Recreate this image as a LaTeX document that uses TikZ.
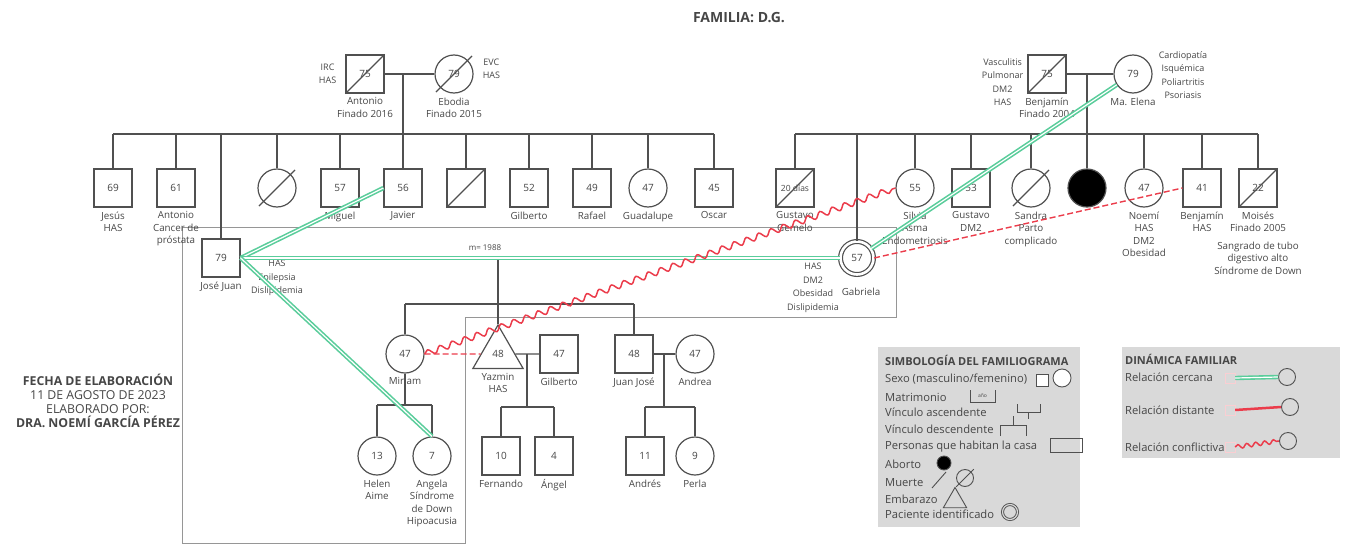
\documentclass[tikz,border=0pt]{standalone}
\usepackage{fontspec}
\setmainfont{Open Sans}
\usepackage{tikz}
\usetikzlibrary{positioning,calc,shapes.geometric,decorations.pathmorphing}

\definecolor{linegray}{RGB}{80,80,80}
\definecolor{textgray}{RGB}{70,70,70}
\definecolor{housegray}{RGB}{150,150,150}
\definecolor{closegreen}{RGB}{90,205,155}
\definecolor{farred}{RGB}{235,60,75}
\definecolor{legendfill}{RGB}{217,217,217}

\begin{document}
\begin{tikzpicture}[
    x=1pt, y=-1pt,
    font=\fontsize{9}{12.5}\selectfont,
    every node/.style={text=textgray},
    tie/.style={draw=linegray, line width=1.2pt},
    male/.style={
        draw=linegray,
        fill=white,
        line width=1.2pt,
        minimum size=38pt,
        inner sep=0pt,
        font=\fontsize{10}{12}\selectfont
    },
    female/.style={male, circle},
    abortion/.style={female, fill=black},
    pregnancy/.style={male, regular polygon, regular polygon sides=3, minimum size=58pt},
    patient/.style={female, minimum size=33pt, double=white, double distance=2.6pt},
    lbl/.style={align=center, inner sep=1pt, label distance=3pt, font=\fontsize{9.8}{12.5}\selectfont},
    note/.style={lbl, font=\fontsize{9}{13.5}\selectfont},
    closerel/.style={draw=closegreen, line width=1.6pt, double=white, double distance=1.2pt},
    distrel/.style={draw=farred, line width=1.4pt, dash pattern=on 6pt off 3pt},
    conflrel/.style={draw=farred, line width=1.5pt, decorate,
        decoration={snake, segment length=13pt, amplitude=3pt}},
    house/.style={draw=housegray, line width=0.8pt},
    legtext/.style={anchor=west, inner sep=0pt, font=\fontsize{11.2}{13}\selectfont},
    legtitle/.style={legtext, font=\bfseries\fontsize{11}{13}\selectfont},
    legicon/.style={draw=linegray, line width=0.9pt, inner sep=0pt}
]
\useasboundingbox (0,0) rectangle (1346,546);

% Title
\node[font=\bfseries\fontsize{14}{16}\selectfont] (titulo) at (739,18) {FAMILIA: D.G.};

% Household
\coordinate (h1) at (182,227);
\coordinate (h2) at (896,227);
\coordinate (h3) at (896,317);
\coordinate (h4) at (465,317);
\coordinate (h5) at (465,543);
\coordinate (h6) at (182,543);
\draw[house] (h1) -- (h2) -- (h3) -- (h4) -- (h5) -- (h6) -- cycle;

% Sibship levels
\coordinate (sibp) at (0,134);
\coordinate (sibm) at (0,134);
\coordinate (sibh) at (0,304);
\coordinate (sibmi) at (0,405);
\coordinate (sibyg) at (527,407);
\coordinate (sibja) at (664,407);

% Paternal grandparents
\node[male] (antonio) at (365,74) {75};
\node[female] (ebodia) at (454,74) {79};
\node[note, left=8pt of antonio] (antonionote) {IRC\\HAS};
\node[note, right=8pt of ebodia, yshift=5pt] (ebodianote) {EVC\\HAS};
\node[lbl, below=3pt of antonio] (antoniolbl) {Antonio\\Finado 2016};
\node[lbl, below=3pt of ebodia] (ebodialbl) {Ebodia\\Finado 2015};

% Maternal grandparents
\node[male] (benjamin) at (1047,74) {75};
\node[female] (elena) at (1133,74) {79};
\node[note, left=3pt of benjamin, yshift=-8pt] (benjaminnote) {Vasculitis\\Pulmonar\\DM2\\HAS};
\node[note, right=5pt of elena, yshift=-1pt] (elenanote) {Cardiopatía\\Isquémica\\Poliartritis\\Psoriasis};
\node[lbl, below=3pt of benjamin] (benjaminlbl) {Benjamín\\Finado 2004};
\node[lbl, below=3pt of elena] (elenalbl) {Ma. Elena};

% Paternal siblings
\node[male, label={[lbl]below:Jesús\\HAS}] (jesus) at (113,188) {69};
\node[male, label={[lbl]below:Antonio\\Cancer de\\próstata}] (antonio2) at (176,188) {61};
\node[female] (sisdead) at (277,188) {};
\node[male, label={[lbl]below:Miguel}] (miguel) at (340,188) {57};
\node[male, label={[lbl]below:Javier}] (javier) at (403,188) {56};
\node[male] (brodead) at (466,188) {};
\node[male, label={[lbl]below:Gilberto}] (gilberto) at (529,188) {52};
\node[male, label={[lbl]below:Rafael}] (rafael) at (592,188) {49};
\node[female, label={[lbl]below:Guadalupe}] (guadalupe) at (648,188) {47};
\node[male, label={[lbl]below:Oscar}] (oscar) at (714,188) {45};
\node[male, label={[lbl]below:José Juan}] (jj) at (221,258) {79};
\node[note] (jjnote) at (277,278) {HAS\\Epilepsia\\Dislipidemia};

% Maternal siblings
\node[male, font=\fontsize{8.5}{10}\selectfont, label={[lbl]below:Gustavo\\Gemelo}] (gustavo) at (795,188) {20 días};
\node[patient, label={[lbl, label distance=12pt, xshift=4pt]below:Gabriela}] (gabriela) at (857,258) {57};
\node[note] (gabrielanote) at (813,288) {HAS\\DM2\\Obesidad\\Dislipidemia};
\node[female, label={[lbl]below:Silvia\\Asma\\Endometriosis}] (silvia) at (915,188) {55};
\node[male, label={[lbl]below:Gustavo\\DM2}] (gustavo2) at (971,188) {53};
\node[female, label={[lbl]below:Sandra\\Parto\\complicado}] (sandra) at (1031,188) {};
\node[abortion] (aborto) at (1087,188) {};
\node[female, label={[lbl]below:Noemí\\HAS\\DM2\\Obesidad}] (noemi) at (1144,188) {47};
\node[male, label={[lbl]below:Benjamín\\HAS}] (benjamin2) at (1202,188) {41};
\node[male, label={[lbl]below:Moisés\\Finado 2005\\[5pt]Sangrado de tubo\\digestivo alto\\Síndrome de Down}] (moises) at (1258,188) {22};

% Third generation
\node[female, label={[lbl]below:Miriam}] (miriam) at (405,354) {47};
\node[pregnancy, label={[lbl]below:Yazmin\\HAS}] (yazmin) at (498,354) {48};
\node[male, label={[lbl]below:Gilberto}] (gilberto2) at (559,354) {47};
\node[male, label={[lbl]below:Juan José}] (juanjose) at (634,354) {48};
\node[female, label={[lbl]below:Andrea}] (andrea) at (695,354) {47};

% Fourth generation
\node[female, label={[lbl]below:Helen\\Aime}] (helen) at (377,456) {13};
\node[female, label={[lbl]below:Angela\\Síndrome\\de Down\\Hipoacusia}] (angela) at (432,456) {7};
\node[male, label={[lbl]below:Fernando}] (fernando) at (501,456) {10};
\node[male, label={[lbl]below:Ángel}] (angel) at (554,456) {4};
\node[male, label={[lbl]below:Andrés}] (andres) at (645,456) {11};
\node[female, label={[lbl]below:Perla}] (perla) at (695,456) {9};

% Deceased
\foreach \p in {antonio,benjamin,brodead,gustavo,moises}
    \draw[tie] (\p.south west) -- (\p.north east);
\foreach \p in {ebodia,sisdead,sandra}
    \draw[tie] ($(\p.south west)!-0.15!(\p.north east)$) -- ($(\p.north east)!-0.15!(\p.south west)$);

% Paternal family lines
\draw[tie] (antonio) -- (ebodia);
\draw[tie] (javier.north |- antonio.east) -- (javier.north);
\draw[tie] (jesus.north |- sibp) -- (oscar.north |- sibp);
\foreach \c in {jesus,antonio2,sisdead,miguel,brodead,gilberto,rafael,guadalupe,oscar,jj}
    \draw[tie] (\c.north |- sibp) -- (\c.north);

% Maternal family lines
\draw[tie] (benjamin) -- (elena);
\draw[tie] (aborto.north |- benjamin.east) -- (aborto.north);
\draw[tie] (gustavo.north |- sibm) -- (moises.north |- sibm);
\foreach \c in {gustavo,gabriela,silvia,gustavo2,sandra,noemi,benjamin2,moises}
    \draw[tie] (\c.north |- sibm) -- (\c.north);

% Nuclear family
\draw[tie] (jj) -- (gabriela);
\node[lbl, font=\fontsize{8}{10}\selectfont] (boda) at (485,248) {m= 1988};
\draw[tie] (yazmin.north |- jj.east) -- (yazmin.north);
\draw[tie] (miriam.north |- sibh) -- (juanjose.north |- sibh);
\foreach \c in {miriam,juanjose}
    \draw[tie] (\c.north |- sibh) -- (\c.north);

% Grandchildren
\draw[tie] (miriam.south) -- (miriam.south |- sibmi);
\draw[tie] (helen.north |- sibmi) -- (angela.north |- sibmi);
\foreach \c in {helen,angela}
    \draw[tie] (\c.north |- sibmi) -- (\c.north);
\draw[tie] (yazmin) -- (gilberto2);
\draw[tie] (sibyg |- gilberto2.west) -- (sibyg);
\draw[tie] (fernando.north |- sibyg) -- (angel.north |- sibyg);
\foreach \c in {fernando,angel}
    \draw[tie] (\c.north |- sibyg) -- (\c.north);
\draw[tie] (juanjose) -- (andrea);
\draw[tie] (sibja |- andrea.west) -- (sibja);
\draw[tie] (andres.north |- sibja) -- (perla.north |- sibja);
\foreach \c in {andres,perla}
    \draw[tie] (\c.north |- sibja) -- (\c.north);

% Family dynamics
\draw[closerel] (jj.east) -- (javier.west);
\draw[closerel] (jj.east) -- (gabriela.west);
\draw[closerel] (jj.east) -- (angela.north);
\draw[closerel] (gabriela) -- (elena);
\draw[distrel] (miriam.east) -- (yazmin.west);
\draw[distrel] (gabriela.east) -- (benjamin2.west);
\draw[conflrel] (miriam.east) -- (silvia.west);

% Elaboration
\node[align=center, font=\fontsize{12.3}{14}\selectfont] (fecha) at (98,401)
{\textbf{FECHA DE ELABORACIÓN}\\11 DE AGOSTO DE 2023\\ELABORADO POR:\\\textbf{DRA. NOEMÍ GARCÍA PÉREZ}};

% Symbol legend
\node[fill=legendfill, minimum width=202pt, minimum height=180pt, anchor=north west, inner sep=0pt] (simbologia) at (878,347) {};
\node[legtitle] (simtitle) at (885,360) {SIMBOLOGÍA DEL FAMILIOGRAMA};
\foreach \y/\t [count=\i] in {379/{Sexo (masculino/femenino)}, 397/Matrimonio, 412/Vínculo ascendente,
    429/Vínculo descendente, 447/Personas que habitan la casa, 464/Aborto, 483/Muerte,
    499/Embarazo, 514/Paciente identificado}
    \node[legtext] (sim\i) at (885,\y) {\t};
\node[legicon, fill=white, minimum size=12pt] (icomale) at (1042,380) {};
\node[legicon, fill=white, circle, minimum size=18pt] (icofemale) at (1062,378) {};
\draw[legicon] (970,390) -- (970,402) -- (995,402) -- (995,390);
\node[inner sep=0pt, font=\fontsize{5}{5}\selectfont] (icoanio) at (982.5,396) {año};
\draw[legicon] (1017,404) -- (1017,412) -- (1040,412) -- (1040,404) (1028.5,412) -- (1028.5,419);
\draw[legicon] (1013,416) -- (1013,425) (1000,436) -- (1000,425) -- (1026,425) -- (1026,436);
\node[legicon, minimum width=32pt, minimum height=14pt] (icocasa) at (1066,445) {};
\node[legicon, circle, fill=black, minimum size=14pt] (icoaborto) at (944,463) {};
\draw[legicon] (932,488) -- (946,472);
\node[legicon, circle, minimum size=17pt] (icomuerte) at (965,478) {};
\draw[legicon] ($(icomuerte.south west)!-0.2!(icomuerte.north east)$) -- ($(icomuerte.north east)!-0.2!(icomuerte.south west)$);
\node[legicon, regular polygon, regular polygon sides=3, minimum size=27pt] (icoemb) at (955,501) {};
\node[legicon, circle, minimum size=15pt, double=legendfill, double distance=1.2pt] (icopac) at (1010,512) {};

% Dynamics legend
\node[fill=legendfill, minimum width=218pt, minimum height=111pt, anchor=north west, inner sep=0pt] (dinamica) at (1122,347) {};
\node[legtitle] (dintitle) at (1125,359) {DINÁMICA FAMILIAR};
\node[legtext] (dincerc) at (1125,377) {Relación cercana};
\node[legtext] (dindist) at (1125,410) {Relación distante};
\node[legtext] (dinconf) at (1125,447) {Relación conflictiva};
\node[draw=farred!25, minimum size=10pt, inner sep=0pt] (sqcerc) at (1230,378) {};
\node[draw=farred!25, minimum size=10pt, inner sep=0pt] (sqdist) at (1230,410) {};
\node[draw=farred!25, minimum size=10pt, inner sep=0pt] (sqconf) at (1230,447) {};
\node[legicon, circle, minimum size=17pt] (ccerc) at (1287,377) {};
\node[legicon, circle, minimum size=17pt] (cdist) at (1290,407) {};
\node[legicon, circle, minimum size=17pt] (cconf) at (1288,441) {};
\draw[closerel] (sqcerc.east) -- (ccerc.west);
\draw[draw=farred, line width=2.5pt] (sqdist.east) -- (cdist.west);
\draw[conflrel, decoration={snake, segment length=9pt, amplitude=2pt}] (sqconf.east) -- (cconf.west);

\end{tikzpicture}
\end{document}
